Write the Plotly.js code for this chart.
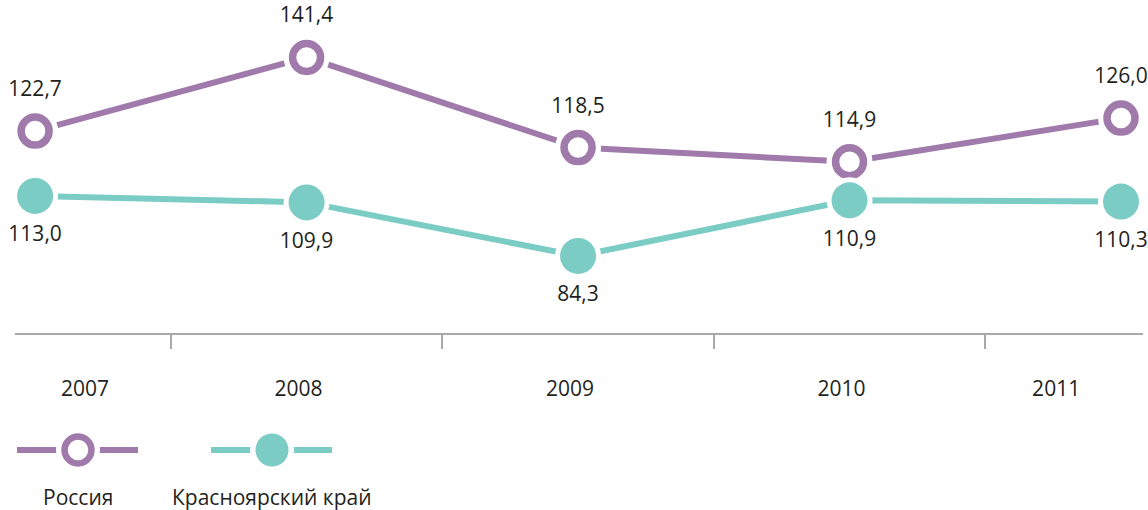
<!DOCTYPE html>
<html><head><meta charset="utf-8">
<script src="https://cdn.plot.ly/plotly-3.0.1.min.js"></script>
<style>html,body{margin:0;padding:0;background:#fff}#chart{width:1148px;height:510px}</style>
</head><body><div id="chart"></div>
<script>
// ---- data ----
const years = [2007, 2008, 2009, 2010, 2011];
const yearLabels = ['2007', '2008', '2009', '2010', '2011'];
const russia = [122.7, 141.4, 118.5, 114.9, 126.0];
const krasnoyarsk = [113.0, 109.9, 84.3, 110.9, 110.3];
const seriesNames = ['Россия', 'Красноярский край'];

// ---- style ----
const PURPLE = '#a17aac', TEAL = '#7bccc5', TEXT = '#231f20', AXIS = '#a7a9ac';
const FONT = '"Open Sans", "Noto Sans", sans-serif';
const W = 1148, H = 510, L = 15, R = 5, T = 0, B = 177;
const xRange = [2006.926, 2011.081];
const px2x = px => (px - L) / (W - L - R);
const py2y = py => (H - B - py) / (H - T - B);

const mids = years.slice(1).map(y => y - 0.5);
const bandCenters = years.map((y, i) => {
  const lo = i === 0 ? xRange[0] : y - 0.5;
  const hi = i === years.length - 1 ? xRange[1] : y + 0.5;
  return (lo + hi) / 2;
});

function seriesTraces(vals, color, yaxis, filled, textpos) {
  return [
    {x: years, y: vals, yaxis, mode: 'lines', line: {color, width: 6}, hoverinfo: 'skip', showlegend: false},
    {x: years, y: vals, yaxis, mode: 'markers+text', marker: {size: 46, color: '#ffffff'},
     texttemplate: '%{y:.1f}', textposition: textpos,
     textfont: {family: FONT, size: 21, color: TEXT}, showlegend: false, cliponaxis: false, hoverinfo: 'skip'},
    {x: years, y: vals, yaxis, mode: 'markers',
     marker: filled ? {size: 36, color} : {size: 28, color: '#ffffff', line: {color, width: 7.5}},
     showlegend: false, cliponaxis: false}
  ];
}

const data = [
  ...seriesTraces(russia, PURPLE, 'y', false, 'top center'),
  ...seriesTraces(krasnoyarsk, TEAL, 'y2', true, 'bottom center')
];

// custom legend (symbol above text)
function legendShapes(cxPx, color, filled) {
  const cy = py2y(450);
  const s = [
    {type: 'line', xref: 'paper', yref: 'paper', x0: px2x(cxPx - 61), x1: px2x(cxPx + 60), y0: cy, y1: cy,
     line: {color, width: 6}},
    {type: 'circle', xref: 'paper', yref: 'paper', xsizemode: 'pixel', ysizemode: 'pixel',
     xanchor: px2x(cxPx), yanchor: cy, x0: -22, x1: 22, y0: -22, y1: 22,
     fillcolor: '#ffffff', line: {width: 0}},
  ];
  if (filled) {
    s.push({type: 'circle', xref: 'paper', yref: 'paper', xsizemode: 'pixel', ysizemode: 'pixel',
      xanchor: px2x(cxPx), yanchor: cy, x0: -16.5, x1: 16.5, y0: -16.5, y1: 16.5,
      fillcolor: color, line: {width: 0}});
  } else {
    s.push({type: 'circle', xref: 'paper', yref: 'paper', xsizemode: 'pixel', ysizemode: 'pixel',
      xanchor: px2x(cxPx), yanchor: cy, x0: -13.5, x1: 13.5, y0: -13.5, y1: 13.5,
      fillcolor: '#ffffff', line: {color, width: 6.5}});
  }
  return s;
}
const legendCenters = [78, 272];
const shapes = [
  ...legendShapes(legendCenters[0], PURPLE, false),
  ...legendShapes(legendCenters[1], TEAL, true)
];
const annotations = seriesNames.map((n, i) => ({
  text: n, xref: 'paper', yref: 'paper', x: px2x(legendCenters[i]), y: py2y(497),
  xanchor: 'center', yanchor: 'middle', showarrow: false,
  font: {family: FONT, size: 21, color: TEXT}
}));

const layout = {
  width: W, height: H,
  margin: {l: L, r: R, t: T, b: B},
  paper_bgcolor: '#ffffff', plot_bgcolor: '#ffffff',
  separators: ', ',
  showlegend: false,
  xaxis: {
    range: xRange, showgrid: false, zeroline: false,
    showline: true, linecolor: AXIS, linewidth: 2,
    tickmode: 'array', tickvals: bandCenters, ticktext: yearLabels, ticks: '',
    tickfont: {family: FONT, size: 21, color: TEXT},
    ticklabelstandoff: 36, ticklabelshift: -8,
    minor: {tickmode: 'array', tickvals: mids, ticks: 'outside', ticklen: 14, tickwidth: 2, tickcolor: AXIS, showgrid: false},
    fixedrange: true
  },
  yaxis: {range: [71.42, 155.99], visible: false, fixedrange: true},
  yaxis2: {range: [47.46, 206.64], overlaying: 'y', visible: false, fixedrange: true},
  shapes, annotations,
  font: {family: FONT, color: TEXT}
};

Plotly.newPlot('chart', data, layout, {displayModeBar: false, staticPlot: true});
</script>
</body></html>
